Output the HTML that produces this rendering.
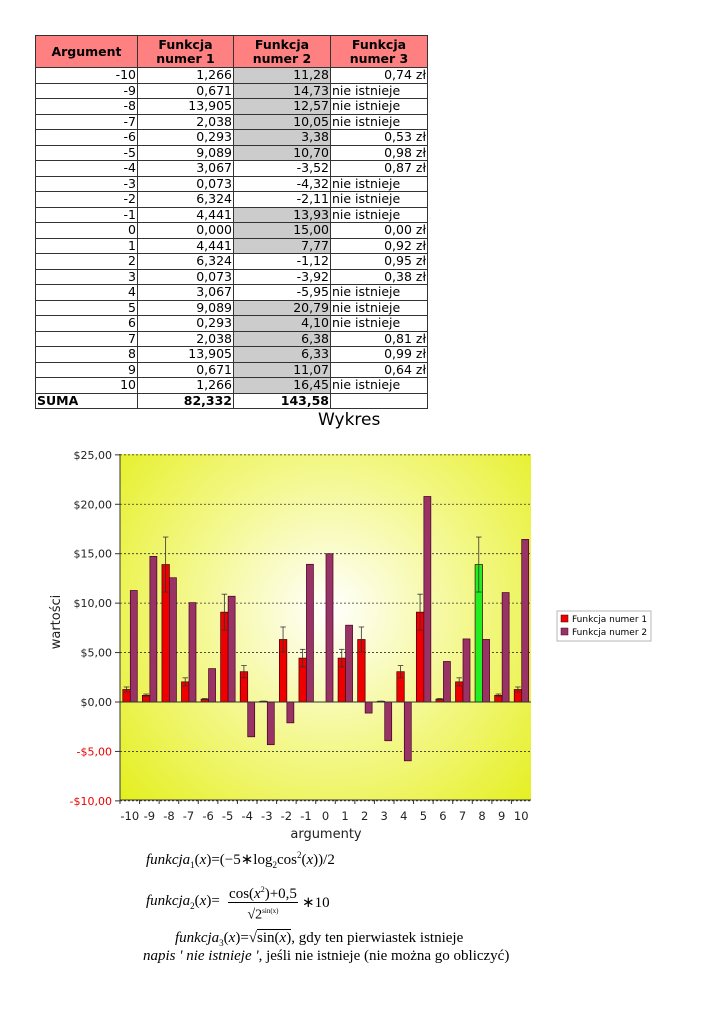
<!DOCTYPE html>
<html><head><meta charset="utf-8"><style>
body{margin:0;background:#fff;width:724px;height:1024px;position:relative;font-family:"DejaVu Sans","Liberation Sans",sans-serif;overflow:hidden}
table{position:absolute;left:35px;top:35px;border-collapse:collapse;font-size:12.5px;table-layout:fixed;width:392px}
td,th{border:1px solid #333;padding:0 1px;height:14.5px;line-height:14px;text-align:right;white-space:nowrap;overflow:hidden}
th{background:#ff8080;text-align:center;height:31px;font-size:12.5px;line-height:14px}
.g{background:#ccc}
.l{text-align:left}
.f{position:absolute;font-family:"Liberation Serif",serif;font-size:15px;white-space:nowrap}
i{font-style:italic}
</style></head><body>
<table id="t">
<colgroup><col style="width:102px"><col style="width:96px"><col style="width:97px"><col style="width:97px"></colgroup>
<tr><th>Argument</th><th>Funkcja<br>numer 1</th><th>Funkcja<br>numer 2</th><th>Funkcja<br>numer 3</th></tr>
</table>
<div style="position:absolute;left:318px;top:410px;font-size:17px">Wykres</div>
<svg id="c" width="724" height="1024" style="position:absolute;left:0;top:0" xmlns="http://www.w3.org/2000/svg">
<defs><radialGradient id="rg" cx="330" cy="610" r="300" gradientUnits="userSpaceOnUse">
<stop offset="0" stop-color="#ffffff"/><stop offset="0.45" stop-color="#f4f890"/><stop offset="1" stop-color="#e2ee10"/></radialGradient></defs>
<rect x="120" y="454" width="411" height="346" fill="url(#rg)"/>
</svg>
<div class="f" style="left:146px;top:850px"><i>funkcja</i><sub style="font-size:9px">1</sub>(<i>x</i>)=(−5∗log<sub style="font-size:9px">2</sub>cos<sup style="font-size:9px">2</sup>(<i>x</i>))/2</div>
<div class="f" style="left:146px;top:893px"><i>funkcja</i><sub style="font-size:9px">2</sub>(<i>x</i>)=</div>
<div class="f" style="left:228px;top:882px;text-align:center;width:70px;line-height:16px"><span>cos(<i>x</i><sup style="font-size:8px">2</sup>)+0,5</span><div style="border-top:1px solid #000;font-size:14px">√2<sup style="font-size:7px">sin(x)</sup></div></div>
<div class="f" style="left:302px;top:893px">∗10</div>
<div class="f" style="left:175px;top:930px"><i>funkcja</i><sub style="font-size:9px">3</sub>(<i>x</i>)=√<span style="border-top:1px solid #000">sin(<i>x</i>)</span>, gdy ten pierwiastek istnieje</div>
<div class="f" style="left:143px;top:948px"><i>napis ' nie istnieje '</i>, jeśli nie istnieje (nie można go obliczyć)</div>
<script>
var f1=[1.266,0.671,13.905,2.038,0.293,9.089,3.067,0.073,6.324,4.441,0,4.441,6.324,0.073,3.067,9.089,0.293,2.038,13.905,0.671,1.266];
var f2=[11.28,14.73,12.57,10.05,3.38,10.70,-3.52,-4.32,-2.11,13.93,15.00,7.77,-1.12,-3.92,-5.95,20.79,4.10,6.38,6.33,11.07,16.45];
var f3=["0,74 zł","nie istnieje","nie istnieje","nie istnieje","0,53 zł","0,98 zł","0,87 zł","nie istnieje","nie istnieje","nie istnieje","0,00 zł","0,92 zł","0,95 zł","0,38 zł","nie istnieje","nie istnieje","nie istnieje","0,81 zł","0,99 zł","0,64 zł","nie istnieje"];
var t=document.getElementById('t'),h='';
function fm(v,d){return v.toFixed(d).replace('.',',');}
for(var i=0;i<21;i++){h+='<tr><td>'+(i-10)+'</td><td>'+fm(f1[i],3)+'</td><td'+(f2[i]>0?' class="g"':'')+'>'+fm(f2[i],2)+'</td><td'+(f3[i][0]=='n'?' class="l"':'')+'>'+f3[i]+'</td></tr>';}
h+='<tr><td class="l" style="font-weight:bold">SUMA</td><td style="font-weight:bold">82,332</td><td style="font-weight:bold">143,58</td><td></td></tr>';
t.insertAdjacentHTML('beforeend',h);
var s='',X0=120,W=411,cw=W/21,Y=function(v){return 702-v*9.886;};
for(var k=-10;k<=25;k+=5){var y=Y(k);s+='<line x1="120" x2="531" y1="'+y+'" y2="'+y+'" stroke="#333" stroke-dasharray="2,2" stroke-width="0.8"/>';
s+='<line x1="115" x2="120" y1="'+y+'" y2="'+y+'" stroke="#333"/>';
s+='<text x="112" y="'+(y+4)+'" text-anchor="end" font-size="11" fill="'+(k<0?'#e00':'#222')+'">'+(k<0?'-':'')+'$'+Math.abs(k)+',00</text>';}
for(var i=0;i<21;i++){var cx=X0+cw*(i+0.5);
var r=f1[i],y1=Y(r);s+='<rect x="'+(cx-7)+'" y="'+y1+'" width="7.5" height="'+(702-y1)+'" fill="'+(i==18?'#22ee22':'#e00')+'" stroke="#400" stroke-width="0.7"/>';
if(r>0){var e=r*0.2;s+='<line x1="'+(cx-3.3)+'" x2="'+(cx-3.3)+'" y1="'+Y(r+e)+'" y2="'+Y(r-e)+'" stroke="#333" stroke-width="0.8"/><line x1="'+(cx-6)+'" x2="'+(cx-0.5)+'" y1="'+Y(r+e)+'" y2="'+Y(r+e)+'" stroke="#333" stroke-width="0.8"/><line x1="'+(cx-6)+'" x2="'+(cx-0.5)+'" y1="'+Y(r-e)+'" y2="'+Y(r-e)+'" stroke="#333" stroke-width="0.8"/>';}
var v=f2[i],y2=Y(v);s+='<rect x="'+(cx+0.5)+'" y="'+Math.min(y2,702)+'" width="7" height="'+Math.abs(702-y2)+'" fill="#993366" stroke="#402" stroke-width="0.7"/>';
s+='<text x="'+cx+'" y="820" text-anchor="middle" font-size="11.5" fill="#222">'+(i-10)+'</text>';
s+='<line x1="'+(X0+cw*i)+'" x2="'+(X0+cw*i)+'" y1="800" y2="804" stroke="#333"/>';}
s+='<line x1="120" x2="531" y1="702" y2="702" stroke="#333"/><line x1="120" x2="120" y1="454" y2="800" stroke="#333"/><line x1="120" x2="531" y1="800" y2="800" stroke="#333"/>';
s+='<text x="326" y="838" text-anchor="middle" font-size="13" fill="#222">argumenty</text>';
s+='<text x="60" y="622" text-anchor="middle" font-size="13" fill="#222" transform="rotate(-90 60 622)">wartości</text>';
s+='<rect x="557" y="611" width="94" height="30" fill="#fff" stroke="#999" stroke-width="0.7"/><rect x="561" y="615" width="7" height="7" fill="#e00" stroke="#400" stroke-width="0.5"/><text x="572" y="622" font-size="9">Funkcja numer 1</text><rect x="561" y="628" width="7" height="7" fill="#993366" stroke="#402" stroke-width="0.5"/><text x="572" y="635" font-size="9">Funkcja numer 2</text>';
document.getElementById('c').insertAdjacentHTML('beforeend',s);
</script>
</body></html>
